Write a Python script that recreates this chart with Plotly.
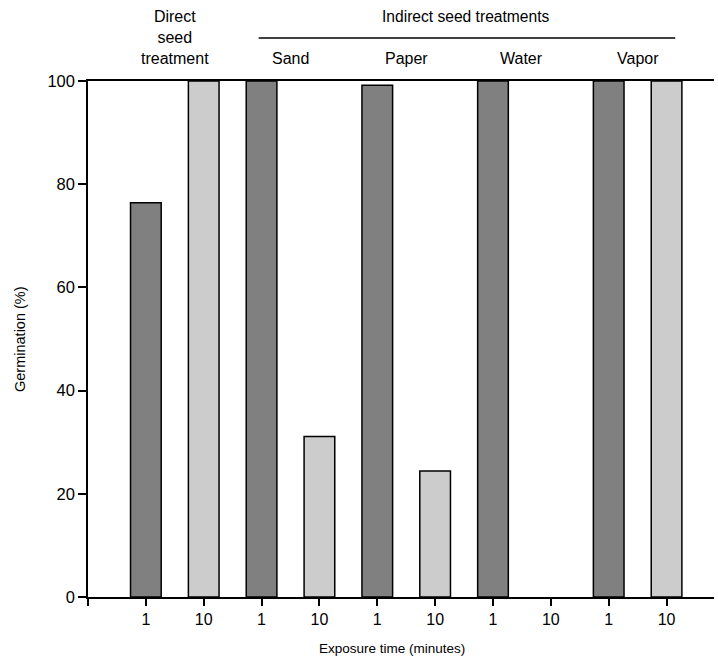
import plotly.graph_objects as go

# Data
positions = [1, 2, 3, 4, 5, 6, 7, 8, 9, 10]
exposure_labels = ["1", "10", "1", "10", "1", "10", "1", "10", "1", "10"]
germination = [76.4, 100, 100, 31.1, 99.2, 24.4, 100, 0, 100, 100]
bar_colors = ["#808080", "#cccccc"] * 5
group_labels = ["Sand", "Paper", "Water", "Vapor"]
group_centers = [3.5, 5.5, 7.5, 9.5]
y_ticks = [0, 20, 40, 60, 80, 100]

FONT = "Liberation Sans, Arial, sans-serif"

outline_widths = [1.5 if v > 0 else 0 for v in germination]

fig = go.Figure()
fig.add_trace(go.Bar(
    x=positions, y=germination, width=0.53,
    marker=dict(color=bar_colors, line=dict(color="black", width=outline_widths)),
    showlegend=False,
))

fig.update_layout(
    width=718, height=662,
    margin=dict(l=88, r=4, t=81, b=65),
    plot_bgcolor="white", paper_bgcolor="white",
    xaxis=dict(
        range=[0, 10.82],
        tickvals=[0] + positions, ticktext=[""] + exposure_labels,
        showline=True, linecolor="black", linewidth=1.5, mirror=True,
        ticks="outside", ticklen=7, tickwidth=1.5, tickcolor="black",
        showgrid=False, zeroline=False,
        tickfont=dict(family=FONT, size=16, color="black"),
    ),
    yaxis=dict(
        range=[0, 100],
        tickvals=y_ticks,
        showline=True, linecolor="black", linewidth=1.5,
        ticks="outside", ticklen=8, tickwidth=1.5, tickcolor="black",
        showgrid=False, zeroline=False,
        tickfont=dict(family=FONT, size=16.5, color="black"),
    ),
)

ph = 662 - 81 - 65
pw = 718 - 88 - 4
def ypaper(py):
    return (662 - 65 - py) / ph

annotations = []
annotations.append(dict(x=1.5, y=ypaper(37), xref="x", yref="paper",
                        text="Direct<br>seed<br>treatment", showarrow=False,
                        font=dict(family=FONT, size=16, color="black")))
for lab, c in zip(group_labels, group_centers):
    annotations.append(dict(x=c, y=ypaper(59), xref="x", yref="paper", text=lab, showarrow=False,
                            font=dict(family=FONT, size=16, color="black")))
annotations.append(dict(x=6.52, y=ypaper(16), xref="x", yref="paper", text="Indirect seed treatments",
                        showarrow=False, font=dict(family=FONT, size=15.6, color="black")))
annotations.append(dict(x=(392 - 88) / pw, y=ypaper(648), xref="paper", yref="paper",
                        text="Exposure time (minutes)",
                        showarrow=False, font=dict(family=FONT, size=13.5, color="black")))
annotations.append(dict(x=(20 - 88) / pw, y=0.5, xref="paper", yref="paper", text="Germination (%)",
                        textangle=-90, showarrow=False,
                        font=dict(family=FONT, size=14.5, color="black")))
for a in annotations:
    a.update(yanchor="middle", xanchor="center")
fig.update_layout(annotations=annotations)

fig.add_shape(type="line", xref="x", yref="paper", x0=2.95, x1=10.15,
              y0=ypaper(38), y1=ypaper(38), line=dict(color="black", width=1.5))

fig.write_html("out.html")
